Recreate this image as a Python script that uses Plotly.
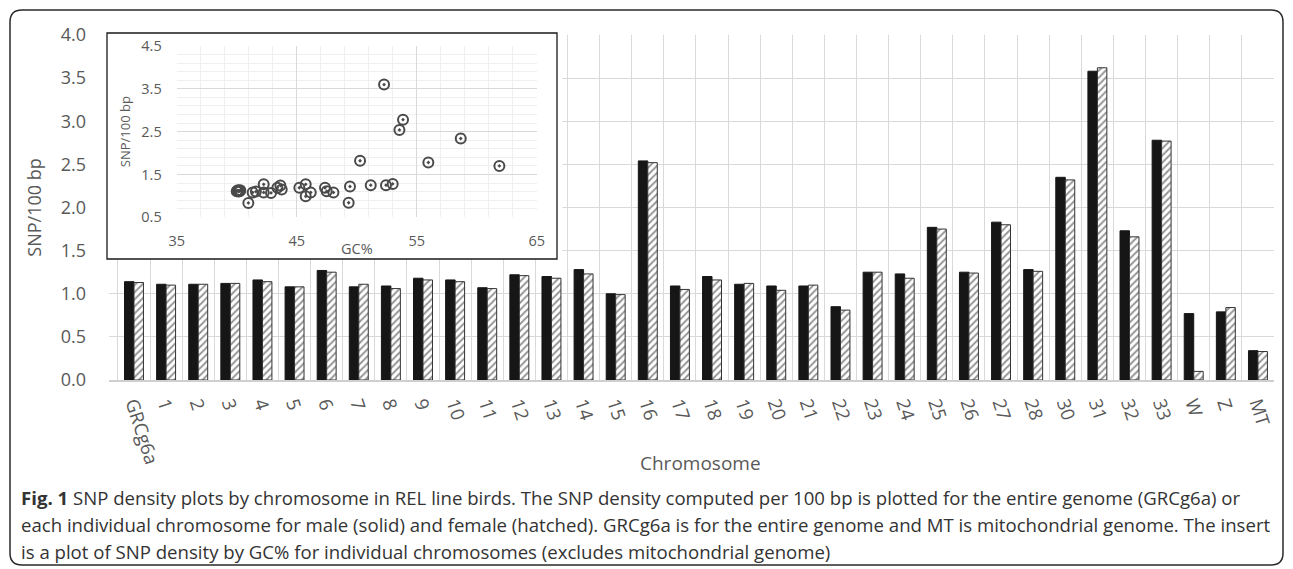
import plotly.graph_objects as go

# ---------------- data ----------------
chromosomes = ["GRCg6a", "1", "2", "3", "4", "5", "6", "7", "8", "9", "10", "11", "12", "13",
               "14", "15", "16", "17", "18", "19", "20", "21", "22", "23", "24", "25", "26",
               "27", "28", "30", "31", "32", "33", "W", "Z", "MT"]
male = [1.14, 1.11, 1.11, 1.12, 1.16, 1.08, 1.27, 1.08, 1.09, 1.18, 1.16, 1.07, 1.22, 1.20,
        1.28, 1.00, 2.54, 1.09, 1.20, 1.11, 1.09, 1.09, 0.85, 1.25, 1.23, 1.77, 1.25,
        1.83, 1.28, 2.35, 3.58, 1.73, 2.78, 0.77, 0.79, 0.34]
female = [1.13, 1.10, 1.11, 1.12, 1.14, 1.08, 1.25, 1.11, 1.06, 1.16, 1.14, 1.06, 1.21, 1.18,
          1.23, 0.99, 2.52, 1.05, 1.16, 1.12, 1.04, 1.10, 0.81, 1.25, 1.18, 1.75, 1.24,
          1.80, 1.26, 2.32, 3.62, 1.66, 2.77, 0.10, 0.84, 0.33]

gc_percent = [40.0, 40.1, 40.2, 40.3, 40.15, 40.25, 40.97, 41.33, 41.6, 42.25, 42.25, 42.86,
              43.39, 43.64, 43.75, 45.22, 45.75, 45.75, 46.17, 47.36, 47.5, 48.06, 49.44,
              49.33, 50.28, 51.17, 52.28, 52.44, 53.0, 53.56, 53.86, 55.97, 58.67, 61.89]
snp_density = [1.11, 1.13, 1.12, 1.13, 1.10, 1.11, 0.835, 1.08, 1.10, 1.27, 1.08, 1.07,
               1.19, 1.24, 1.15, 1.19, 1.27, 0.99, 1.08, 1.19, 1.11, 1.08, 1.22,
               0.84, 1.82, 1.25, 3.60, 1.25, 1.28, 2.54, 2.78, 1.78, 2.34, 1.70]

main_yticks = [0.0, 0.5, 1.0, 1.5, 2.0, 2.5, 3.0, 3.5, 4.0]
inset_xticks = [35, 45, 55, 65]
inset_yticks = [0.5, 1.5, 2.5, 3.5, 4.5]

caption_lines = [
    "<b>Fig. 1</b> SNP density plots by chromosome in REL line birds. The SNP density computed per 100 bp is plotted for the entire genome (GRCg6a) or",
    "each individual chromosome for male (solid) and female (hatched). GRCg6a is for the entire genome and MT is mitochondrial genome. The insert",
    "is a plot of SNP density by GC% for individual chromosomes (excludes mitochondrial genome)",
]

# ---------------- layout geometry ----------------
W, H = 1293, 569
PL, PR, PT, PB = 109, 1274, 35, 380  # main plot area in pixels
NCAT = len(chromosomes)
YMAX = 4.0


def px(x):
    return (x - PL) / (PR - PL)


def py(y):
    return (PB - y) / (PB - PT)


def cat_x(x):  # pixel -> category-axis position
    return (x - PL) / (PR - PL) * NCAT - 0.5


def val_y(y):  # pixel -> main value axis position
    return (PB - y) / (PB - PT) * YMAX


FONT = "Open Sans"
GRAY = "#595959"

fig = go.Figure()

fig.add_trace(go.Bar(
    x=chromosomes, y=male, name="male",
    marker=dict(color="#161616", line=dict(color="#161616", width=1)),
    showlegend=False,
))
fig.add_trace(go.Bar(
    x=chromosomes, y=female, name="female",
    marker=dict(color="white",
                pattern=dict(shape="/", fgcolor="#2b2b2b", bgcolor="white", size=5, solidity=0.4),
                line=dict(color="#333333", width=1)),
    showlegend=False,
))

fig.add_trace(go.Scatter(
    x=gc_percent, y=snp_density, mode="markers", xaxis="x2", yaxis="y2",
    marker=dict(symbol="circle-open-dot", size=10, color="#4a4a4a", line=dict(width=2)),
    showlegend=False,
))

fig.update_layout(
    width=W, height=H, autosize=False,
    margin=dict(l=PL, r=W - PR, t=PT, b=H - PB),
    paper_bgcolor="white", plot_bgcolor="white",
    barmode="group", bargap=0.41, bargroupgap=0,
    font=dict(family=FONT, color=GRAY),
    xaxis=dict(
        type="category", tickson="boundaries", showgrid=True, gridcolor="#d9d9d9", gridwidth=1,
        showline=True, linecolor="#cfcfcf", linewidth=1.5,
        ticks="", tickangle=72, tickfont=dict(size=18.5, color=GRAY, family=FONT),
        ticklabelstandoff=4,
        automargin=False,
    ),
    yaxis=dict(
        range=[0, YMAX], tickvals=main_yticks, tickformat=".1f", showgrid=True,
        gridcolor="#d9d9d9", gridwidth=1, zeroline=False, ticks="",
        tickfont=dict(size=18, color=GRAY, family=FONT), ticklabelstandoff=22,
        title=dict(text="SNP/100 bp", font=dict(size=18, color=GRAY, family=FONT), standoff=14),
        automargin=False,
    ),
    xaxis2=dict(
        domain=[px(176.7), px(536.7)], anchor="y2", range=[35, 65], tickvals=inset_xticks,
        showgrid=True, gridcolor="#d9d9d9", zeroline=False, ticks="",
        minor=dict(dtick=2, tick0=35, showgrid=True, gridcolor="#efefef"),
        tickfont=dict(size=14.5, color=GRAY, family=FONT), ticklabelstandoff=13,
        automargin=False,
    ),
    yaxis2=dict(
        domain=[py(217.3), py(46)], anchor="x2", range=[0.5, 4.5], tickvals=inset_yticks,
        tickformat=".1f", showgrid=True, gridcolor="#d9d9d9", zeroline=False, ticks="",
        minor=dict(dtick=0.2, tick0=0.5, showgrid=True, gridcolor="#efefef"),
        tickfont=dict(size=14.5, color=GRAY, family=FONT), ticklabelstandoff=14,
        title=dict(text="SNP/100 bp", font=dict(size=13, color=GRAY, family=FONT), standoff=7),
        automargin=False,
    ),
)

# white backing for the insert (between main grid and traces) and its border
fig.add_shape(type="rect", xref="x", yref="y",
              x0=cat_x(100), x1=cat_x(557), y0=val_y(259), y1=val_y(20),
              fillcolor="white", line=dict(width=0), layer="between")
fig.add_shape(type="rect", xref="paper", yref="paper",
              x0=px(107), x1=px(557), y0=py(259), y1=py(33),
              fillcolor="rgba(0,0,0,0)", line=dict(color="#1a1a1a", width=1.3), layer="above")

# GC% label for the insert
fig.add_annotation(xref="paper", yref="paper", x=px(357), y=py(248), text="GC%",
                   showarrow=False, xanchor="center", yanchor="middle",
                   font=dict(size=14.5, color=GRAY, family=FONT))

# x-axis title
fig.add_annotation(xref="paper", yref="paper", x=px(700), y=py(463), text="Chromosome",
                   showarrow=False, xanchor="center", yanchor="middle",
                   font=dict(size=19, color=GRAY, family=FONT))

# outer rounded frame
x0, x1, y0, y1 = px(10), px(1283), py(565), py(10)
rx, ry = 12 / (PR - PL), 12 / (PB - PT)
path = (f"M {x0+rx},{y1} L {x1-rx},{y1} Q {x1},{y1} {x1},{y1-ry} "
        f"L {x1},{y0+ry} Q {x1},{y0} {x1-rx},{y0} L {x0+rx},{y0} "
        f"Q {x0},{y0} {x0},{y0+ry} L {x0},{y1-ry} Q {x0},{y1} {x0+rx},{y1} Z")
fig.add_shape(type="path", path=path, xref="paper", yref="paper",
              line=dict(color="#2a2a2a", width=1.5), layer="above")

# caption
for i, line in enumerate(caption_lines):
    fig.add_annotation(xref="paper", yref="paper", x=px(19), y=py(497 + 27 * i), text=line,
                       showarrow=False, xanchor="left", yanchor="middle", align="left",
                       font=dict(size=18.6, color="#333333", family=FONT))

fig.write_html("out.html", config={"displayModeBar": False},
               post_script="document.body.style.margin='0';document.body.style.overflow='hidden';")
